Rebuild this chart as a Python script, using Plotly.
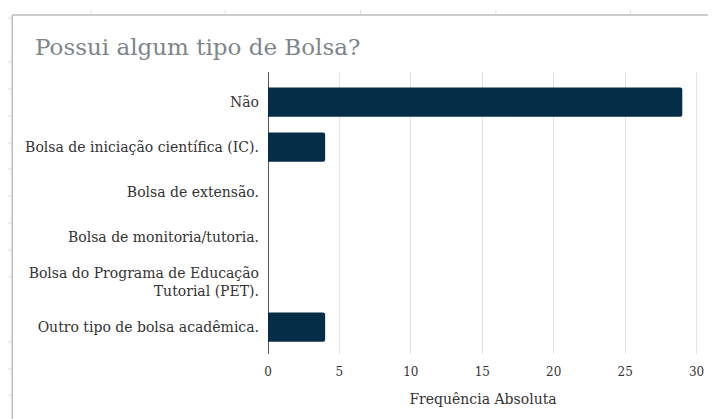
import plotly.graph_objects as go

categories = [
    "Não",
    "Bolsa de iniciação científica (IC).",
    "Bolsa de extensão.",
    "Bolsa de monitoria/tutoria.",
    "Bolsa do Programa de Educação<br>Tutorial (PET).",
    "Outro tipo de bolsa acadêmica.",
]
values = [29, 4, 0, 0, 0, 4]
x_ticks = [0, 5, 10, 15, 20, 25, 30]

# page body adds an 8px offset; work in reference-screen coordinates
OFF = 8
W, H = 716 - OFF, 419 - OFF
L, R, T, B = 268 - OFF, 16, 72 - OFF, 65
pw, ph = W - L - R, H - T - B

def px(x):
    return (x - OFF - L) / pw

def py(y):
    return (H - B - (y - OFF)) / ph

SERIF = "DejaVu Serif"

fig = go.Figure(go.Bar(
    x=values,
    y=list(range(len(categories))),
    orientation="h",
    width=0.65,
    marker=dict(color="#062d48", line=dict(width=0), cornerradius=2),
    hoverinfo="skip",
))

shapes = []
# chart box border
shapes.append(dict(type="line", xref="paper", yref="paper", x0=px(11), x1=px(800), y0=py(15), y1=py(15),
                   line=dict(color="#bdbdbd", width=1.5)))
shapes.append(dict(type="line", xref="paper", yref="paper", x0=px(11), x1=px(11), y0=py(15), y1=py(500),
                   line=dict(color="#bdbdbd", width=1.5)))
# faint sheet tick marks outside the box
for yy in [18, 62, 89, 116, 143, 169, 196, 223, 250, 277, 342, 369, 395]:
    shapes.append(dict(type="line", xref="paper", yref="paper", x0=px(6), x1=px(10), y0=py(yy), y1=py(yy),
                       line=dict(color="#dddddd", width=1)))
for xx in [90, 225, 361, 497, 632]:
    shapes.append(dict(type="line", xref="paper", yref="paper", x0=px(xx), x1=px(xx), y0=py(10), y1=py(14),
                       line=dict(color="#dddddd", width=1)))

fig.update_layout(
    width=W, height=H,
    margin=dict(l=L, r=R, t=T, b=B, pad=0),
    paper_bgcolor="white", plot_bgcolor="white",
    showlegend=False,
    font=dict(family=SERIF, color="#333333", size=14),
    title=dict(text="Possui algum tipo de Bolsa?", x=(35 - OFF) / W, xref="container", xanchor="left",
               y=1 - (47 - OFF) / H, yanchor="middle", yref="container",
               font=dict(family=SERIF, size=23, color="#7d868b")),
    xaxis=dict(
        range=[0, 30.1], tickvals=x_ticks, ticktext=[str(v) for v in x_ticks],
        showgrid=True, gridcolor="#e3e3e3", gridwidth=1,
        zeroline=True, zerolinecolor="#555555", zerolinewidth=1,
        showline=False, ticks="", ticklabelstandoff=9,
        tickfont=dict(family=SERIF, size=12, color="#333333"),
        title=dict(text="Frequência Absoluta", standoff=16,
                   font=dict(family=SERIF, size=14, color="#333333")),
        fixedrange=True,
    ),
    yaxis=dict(
        range=[5.6, -0.67],
        tickvals=list(range(len(categories))), ticktext=categories,
        showgrid=False, zeroline=False, showline=False, ticks="",
        ticklabelstandoff=8,
        tickfont=dict(family=SERIF, size=14, color="#333333"),
        fixedrange=True,
    ),
    shapes=shapes,
)

fig.write_html("out.html")
